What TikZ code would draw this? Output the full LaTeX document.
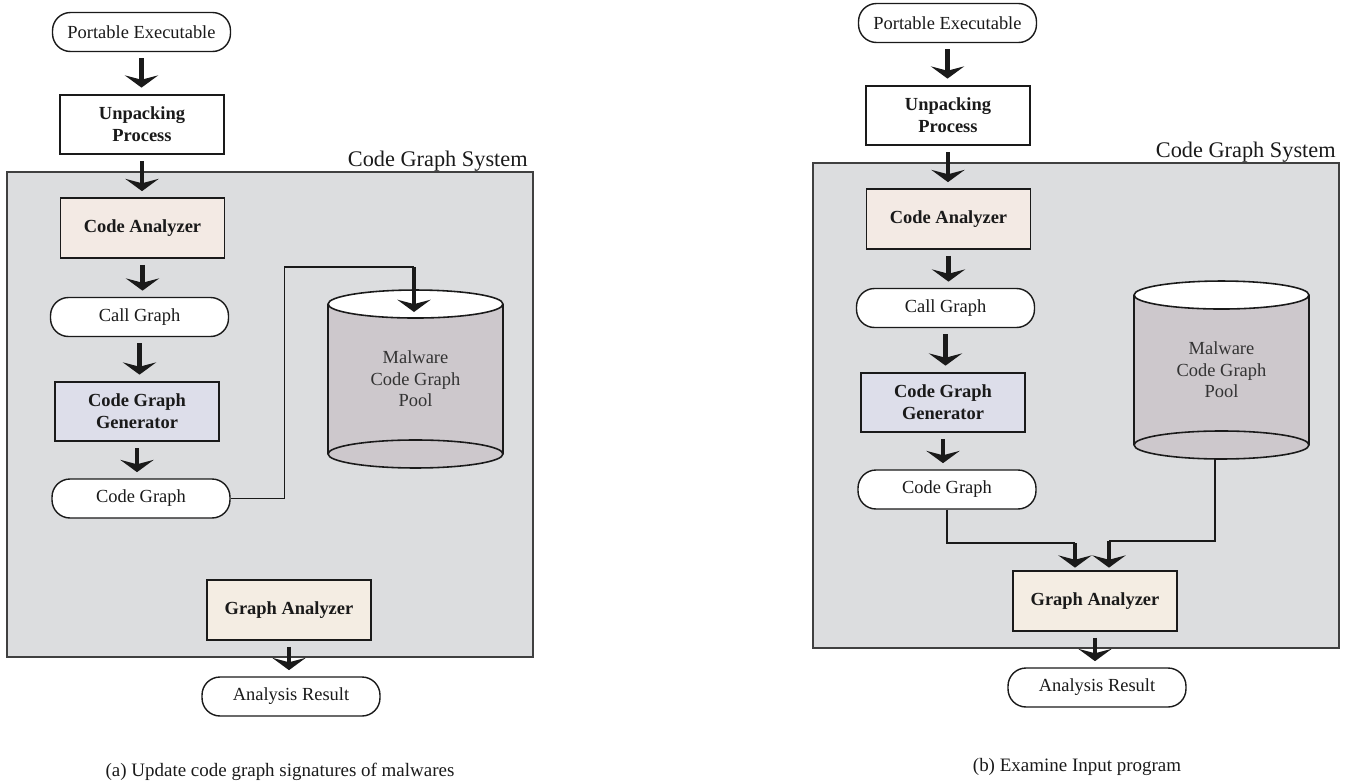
\documentclass[tikz,border=0pt]{standalone}
\usepackage{fontspec}
\setmainfont{Liberation Serif}
\usetikzlibrary{arrows.meta}
\definecolor{sysgray}{HTML}{DCDDDF}
\definecolor{anapink}{HTML}{F3EAE4}
\definecolor{genblue}{HTML}{DDDEEA}
\definecolor{gacream}{HTML}{F4EDE3}
\definecolor{poolgray}{HTML}{CDC8CC}
\definecolor{edge}{HTML}{1A1A1A}
\tikzstyle{term_op} = [rectangle, rounded corners=0.36cm, minimum width=3.56cm, minimum height=0.78cm, text centered, draw=edge, line width=0.8pt, fill=white, text=edge, font=\fontsize{10.5}{12.5}\selectfont]
\tikzstyle{proc_op} = [rectangle, minimum width=3.28cm, minimum height=1.19cm, align=center, draw=edge, line width=1.1pt, text=edge, font=\bfseries\fontsize{10.5}{12.5}\selectfont]
\tikzstyle{sys_box} = [rectangle, minimum width=10.52cm, minimum height=9.7cm, draw=black!75, line width=0.9pt, fill=sysgray]
\tikzstyle{sys_name} = [anchor=base east, inner sep=0pt, text=edge, font=\fontsize{12.7}{14}\selectfont]
\tikzstyle{pool_op} = [rectangle, minimum width=3.5cm, minimum height=3cm, align=center, text=black!80, font=\fontsize{10.5}{12.2}\selectfont]
\tikzstyle{pool_line} = [line width=0.9pt, draw=edge]
\tikzstyle{flow} = [line width=2.6pt, draw=edge, -{Stealth[length=7pt,width=19pt,inset=2.5pt]}, shorten <=3.5pt, shorten >=3.5pt]
\tikzstyle{wire} = [line width=0.85pt, draw=edge]
\tikzstyle{caption} = [text=edge, font=\fontsize{10.8}{13}\selectfont]

\begin{document}
\begin{tikzpicture}[x=0.02cm, y=-0.02cm]
\useasboundingbox (0,0) rectangle (1353,782);

% (a) updating the pool
\node[sys_box] (sys1) at (270,414.5) {};
\node[sys_name] (sysname1) at (528,166) {Code Graph System};
\coordinate (pc1) at (415.5,379);
\fill[poolgray] ([shift={(-1.75cm,1.5cm)}]pc1) -- ([shift={(-1.75cm,-1.5cm)}]pc1) arc[start angle=180, end angle=360, x radius=1.75cm, y radius=0.28cm] -- ([shift={(1.75cm,1.5cm)}]pc1) -- cycle;
\draw[pool_line] ([shift={(-1.75cm,1.5cm)}]pc1) -- ++(0,-3cm);
\draw[pool_line] ([shift={(1.75cm,1.5cm)}]pc1) -- ++(0,-3cm);
\draw[pool_line] ([yshift=-1.5cm]pc1) ellipse[x radius=1.75cm, y radius=0.28cm];
\draw[pool_line, fill=white] ([yshift=1.5cm]pc1) ellipse[x radius=1.75cm, y radius=0.28cm];
\node[pool_op] (pool1) at (pc1) {Malware\\Code Graph\\Pool};

\node[term_op] (pe1) at (141.5,32) {Portable Executable};
\node[proc_op, fill=white] (up1) at (142,124.5) {Unpacking\\Process};
\node[proc_op, fill=anapink] (ca1) at (142.5,228) {Code Analyzer};
\node[term_op] (call1) at (139.5,317) {Call Graph};
\node[proc_op, fill=genblue] (gen1) at (137,411.5) {Code Graph\\Generator};
\node[term_op] (cg1) at (141,498.5) {Code Graph};
\node[proc_op, fill=gacream] (ga1) at (289,610) {Graph Analyzer};
\node[term_op] (ar1) at (291,696.5) {Analysis Result};

\draw[flow] (pe1.south) -- (pe1.south |- up1.north);
\draw[flow] (up1.south) -- (up1.south |- ca1.north);
\draw[flow] (ca1.south) -- (ca1.south |- call1.north);
\draw[flow] (call1.south) -- (call1.south |- gen1.north);
\draw[flow] (gen1.south) -- (gen1.south |- cg1.north);
\draw[flow] (ga1.south) -- (ga1.south |- ar1.north);
% code graph goes into the pool
\coordinate (bend1) at (414,267);
\coordinate (in1) at (414,312);
\draw[wire] (cg1.east) -- ++(54,0) |- (bend1);
\draw[flow, shorten <=0pt, shorten >=0pt] (bend1) -- (in1);

% (b) examining an input program
\begin{scope}[shift={(806,-9)}]
\node[sys_box] (sys2) at (270,414.5) {};
\node[sys_name] (sysname2) at (530,166) {Code Graph System};
\coordinate (pc2) at (415.5,379);
\fill[poolgray] ([shift={(-1.75cm,1.5cm)}]pc2) -- ([shift={(-1.75cm,-1.5cm)}]pc2) arc[start angle=180, end angle=360, x radius=1.75cm, y radius=0.28cm] -- ([shift={(1.75cm,1.5cm)}]pc2) -- cycle;
\draw[pool_line] ([shift={(-1.75cm,1.5cm)}]pc2) -- ++(0,-3cm);
\draw[pool_line] ([shift={(1.75cm,1.5cm)}]pc2) -- ++(0,-3cm);
\draw[pool_line] ([yshift=-1.5cm]pc2) ellipse[x radius=1.75cm, y radius=0.28cm];
\draw[pool_line, fill=white] ([yshift=1.5cm]pc2) ellipse[x radius=1.75cm, y radius=0.28cm];
\node[pool_op] (pool2) at (pc2) {Malware\\Code Graph\\Pool};

\node[term_op] (pe2) at (141.5,32) {Portable Executable};
\node[proc_op, fill=white] (up2) at (142,124.5) {Unpacking\\Process};
\node[proc_op, fill=anapink] (ca2) at (142.5,228) {Code Analyzer};
\node[term_op] (call2) at (139.5,317) {Call Graph};
\node[proc_op, fill=genblue] (gen2) at (137,411.5) {Code Graph\\Generator};
\node[term_op] (cg2) at (141,498.5) {Code Graph};
\node[proc_op, fill=gacream] (ga2) at (289,610) {Graph Analyzer};
\node[term_op] (ar2) at (291,696.5) {Analysis Result};

\draw[flow] (pe2.south) -- (pe2.south |- up2.north);
\draw[flow] (up2.south) -- (up2.south |- ca2.north);
\draw[flow] (ca2.south) -- (ca2.south |- call2.north);
\draw[flow] (call2.south) -- (call2.south |- gen2.north);
\draw[flow] (gen2.south) -- (gen2.south |- cg2.north);
\draw[flow] (ga2.south) -- (ga2.south |- ar2.north);
% both graphs meet at the analyzer
\coordinate (join1) at (269,552);
\coordinate (join2) at (303,550);
\draw[wire] (cg2.south) |- (join1);
\draw[flow, shorten <=0pt, shorten >=1.5pt] (join1) -- (join1 |- ga2.north);
\draw[wire] ([shift={(-0.13cm,-0.28cm)}]pool2.south) |- (join2);
\draw[flow, shorten <=0pt, shorten >=1.5pt] (join2) -- (join2 |- ga2.north);
\end{scope}

\node[caption] (cap1) at (280,772) {(a) Update code graph signatures of malwares};
\node[caption] (cap2) at (1077,767) {(b) Examine Input program};
\end{tikzpicture}
\end{document}
